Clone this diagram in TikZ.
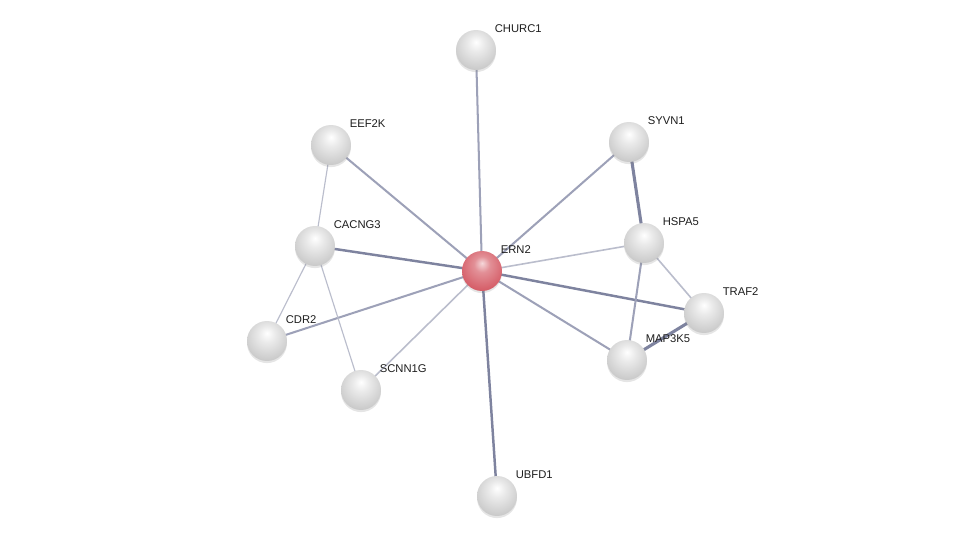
\documentclass[tikz,border=0pt]{standalone}
\usepackage{fontspec}
\setmainfont{Liberation Sans}
\usetikzlibrary{calc,backgrounds,shadows}
\definecolor{Ink}{HTML}{1E1E1E}
\definecolor{Hub}{HTML}{D6606A}
\definecolor{EdgeLo}{HTML}{BABDCC}
\definecolor{EdgeMid}{HTML}{9DA1B8}
\definecolor{EdgeHi}{HTML}{7E839F}
\pgfdeclareradialshading{sphere}{\pgfpoint{0bp}{10bp}}{color(0bp)=(white); color(10bp)=(black!8);
  color(28bp)=(black!20); color(40bp)=(black!30); color(50bp)=(black!46); color(60bp)=(black!60)}
\pgfdeclareradialshading{hubsphere}{\pgfpoint{0bp}{10bp}}{color(0bp)=(Hub!25!white); color(10bp)=(Hub!70!white);
  color(28bp)=(Hub); color(40bp)=(Hub!88!black); color(50bp)=(Hub!68!black); color(60bp)=(Hub!52!black)}
\tikzset{
  prot/.style={circle,shading=sphere,minimum size=8mm,inner sep=0pt,
    drop shadow={opacity=.2,shadow xshift=0pt,shadow yshift=-1.2pt}},
  hub/.style={prot,shading=hubsphere},
  tag/.style={anchor=base west,inner sep=0pt,font=\fontsize{6.4}{7.7}\selectfont,text=Ink},
  linkweak/.style={draw=EdgeLo,line width=.65pt},
  linkmid/.style={draw=EdgeMid,line width=1.15pt},
  linkstrong/.style={draw=EdgeHi,line width=1.75pt}
}

\begin{document}
\begin{tikzpicture}[x=0.02cm,y=-0.02cm]
  \useasboundingbox (0,0) rectangle (975,541);
  % proteins
  \node[hub] (ern) at (482,271) {};
  \node[prot] (churc) at (476,50) {}; \node[prot] (eef) at (331,145) {};
  \node[prot] (syvn) at (629,142) {}; \node[prot] (cacng) at (315,246) {};
  \node[prot] (hspa) at (644,243) {}; \node[prot] (traf) at (704,313) {};
  \node[prot] (cdr) at (267,341) {}; \node[prot] (map) at (627,360) {};
  \node[prot] (scnn) at (361,390) {}; \node[prot] (ubfd) at (497,496) {};
  % names
  \node[tag] (ern-t) at ($(ern)+(18.5,-17.5)$) {ERN2};
  \node[tag] (churc-t) at ($(churc)+(18.5,-17.5)$) {CHURC1};
  \node[tag] (eef-t) at ($(eef)+(18.5,-17.5)$) {EEF2K};
  \node[tag] (syvn-t) at ($(syvn)+(18.5,-17.5)$) {SYVN1};
  \node[tag] (cacng-t) at ($(cacng)+(18.5,-17.5)$) {CACNG3};
  \node[tag] (hspa-t) at ($(hspa)+(18.5,-17.5)$) {HSPA5};
  \node[tag] (traf-t) at ($(traf)+(18.5,-17.5)$) {TRAF2};
  \node[tag] (cdr-t) at ($(cdr)+(18.5,-17.5)$) {CDR2};
  \node[tag] (map-t) at ($(map)+(18.5,-17.5)$) {MAP3K5};
  \node[tag] (scnn-t) at ($(scnn)+(18.5,-17.5)$) {SCNN1G};
  \node[tag] (ubfd-t) at ($(ubfd)+(18.5,-17.5)$) {UBFD1};
  % interactions
  \begin{scope}[on background layer]
    \fill[white] (0,0) rectangle (975,541);
    \draw[linkmid] (ern.center)--(churc.center);
    \draw[linkmid] (ern.center)--(eef.center);
    \draw[linkmid] (ern.center)--(syvn.center);
    \draw[linkstrong,line width=1.4pt] (ern.center)--(cacng.center);
    \draw[linkweak,line width=.9pt] (ern.center)--(hspa.center);
    \draw[linkstrong,line width=1.4pt] (ern.center)--(traf.center);
    \draw[linkmid] (ern.center)--(cdr.center);
    \draw[linkmid] (ern.center)--(map.center);
    \draw[linkweak,line width=.9pt] (ern.center)--(scnn.center);
    \draw[linkstrong,line width=1.4pt] (ern.center)--(ubfd.center);
    \draw[linkweak] (eef.center)--(cacng.center);
    \draw[linkweak] (cacng.center)--(cdr.center);
    \draw[linkweak] (cacng.center)--(scnn.center);
    \draw[linkstrong] (syvn.center)--(hspa.center);
    \draw[linkweak,line width=.9pt] (hspa.center)--(traf.center);
    \draw[linkmid] (hspa.center)--(map.center);
    \draw[linkstrong] (map.center)--(traf.center);
  \end{scope}
\end{tikzpicture}
\end{document}
